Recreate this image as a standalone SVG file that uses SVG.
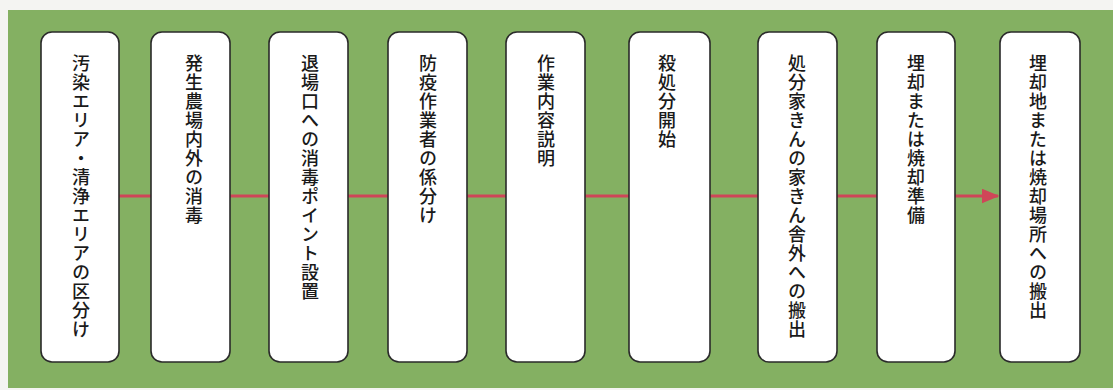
<svg xmlns="http://www.w3.org/2000/svg" width="1113" height="390" viewBox="0 0 1113 390">
<style>
.box{fill:#fff;stroke:#2a2a2a;stroke-width:1.6}
.lbl{font-family:"Noto Sans CJK JP","Noto Sans",sans-serif;font-size:18px;font-weight:500;letter-spacing:1px;fill:#1a1a1a;writing-mode:vertical-rl;text-orientation:upright}
.con{stroke:#cf4658;stroke-width:3;fill:none}
</style>
<defs>
<marker id="ah" markerWidth="6" markerHeight="5" refX="5.5" refY="2.5" orient="auto" markerUnits="strokeWidth">
<path d="M0,0 L6,2.5 L0,5 Z" fill="#cf4658"/>
</marker>
</defs>
<rect width="1113" height="390" fill="#f4f4f2"/>
<rect x="8" y="10" width="1105" height="378" fill="#84b062"/>
<g id="connectors">
<line class="con" x1="119" y1="196" x2="151" y2="196"/>
<line class="con" x1="230" y1="196" x2="269" y2="196"/>
<line class="con" x1="348" y1="196" x2="388" y2="196"/>
<line class="con" x1="467" y1="196" x2="506" y2="196"/>
<line class="con" x1="585" y1="196" x2="629" y2="196"/>
<line class="con" x1="710" y1="196" x2="758" y2="196"/>
<line class="con" x1="837" y1="196" x2="877" y2="196"/>
<line class="con" x1="955" y1="196" x2="998" y2="196" marker-end="url(#ah)"/>
</g>
<g id="n1"><rect class="box" x="41" y="32" width="78" height="330" rx="11"/><text class="lbl" x="81" y="54">汚染エリア・清浄エリアの区分け</text></g>
<g id="n2"><rect class="box" x="151" y="32" width="79" height="330" rx="11"/><text class="lbl" x="194" y="54">発生農場内外の消毒</text></g>
<g id="n3"><rect class="box" x="269" y="32" width="79" height="330" rx="11"/><text class="lbl" x="310" y="54">退場口への消毒ポイント設置</text></g>
<g id="n4"><rect class="box" x="388" y="32" width="79" height="330" rx="11"/><text class="lbl" x="428" y="54">防疫作業者の係分け</text></g>
<g id="n5"><rect class="box" x="506" y="32" width="79" height="330" rx="11"/><text class="lbl" x="546" y="54">作業内容説明</text></g>
<g id="n6"><rect class="box" x="629" y="32" width="81" height="330" rx="11"/><text class="lbl" x="667" y="54">殺処分開始</text></g>
<g id="n7"><rect class="box" x="758" y="32" width="79" height="330" rx="11"/><text class="lbl" x="797" y="54">処分家きんの家きん舎外への搬出</text></g>
<g id="n8"><rect class="box" x="877" y="32" width="78" height="330" rx="11"/><text class="lbl" x="916" y="54">埋却または焼却準備</text></g>
<g id="n9"><rect class="box" x="1000" y="32" width="80" height="330" rx="11"/><text class="lbl" x="1038" y="54">埋却地または焼却場所への搬出</text></g>
</svg>
